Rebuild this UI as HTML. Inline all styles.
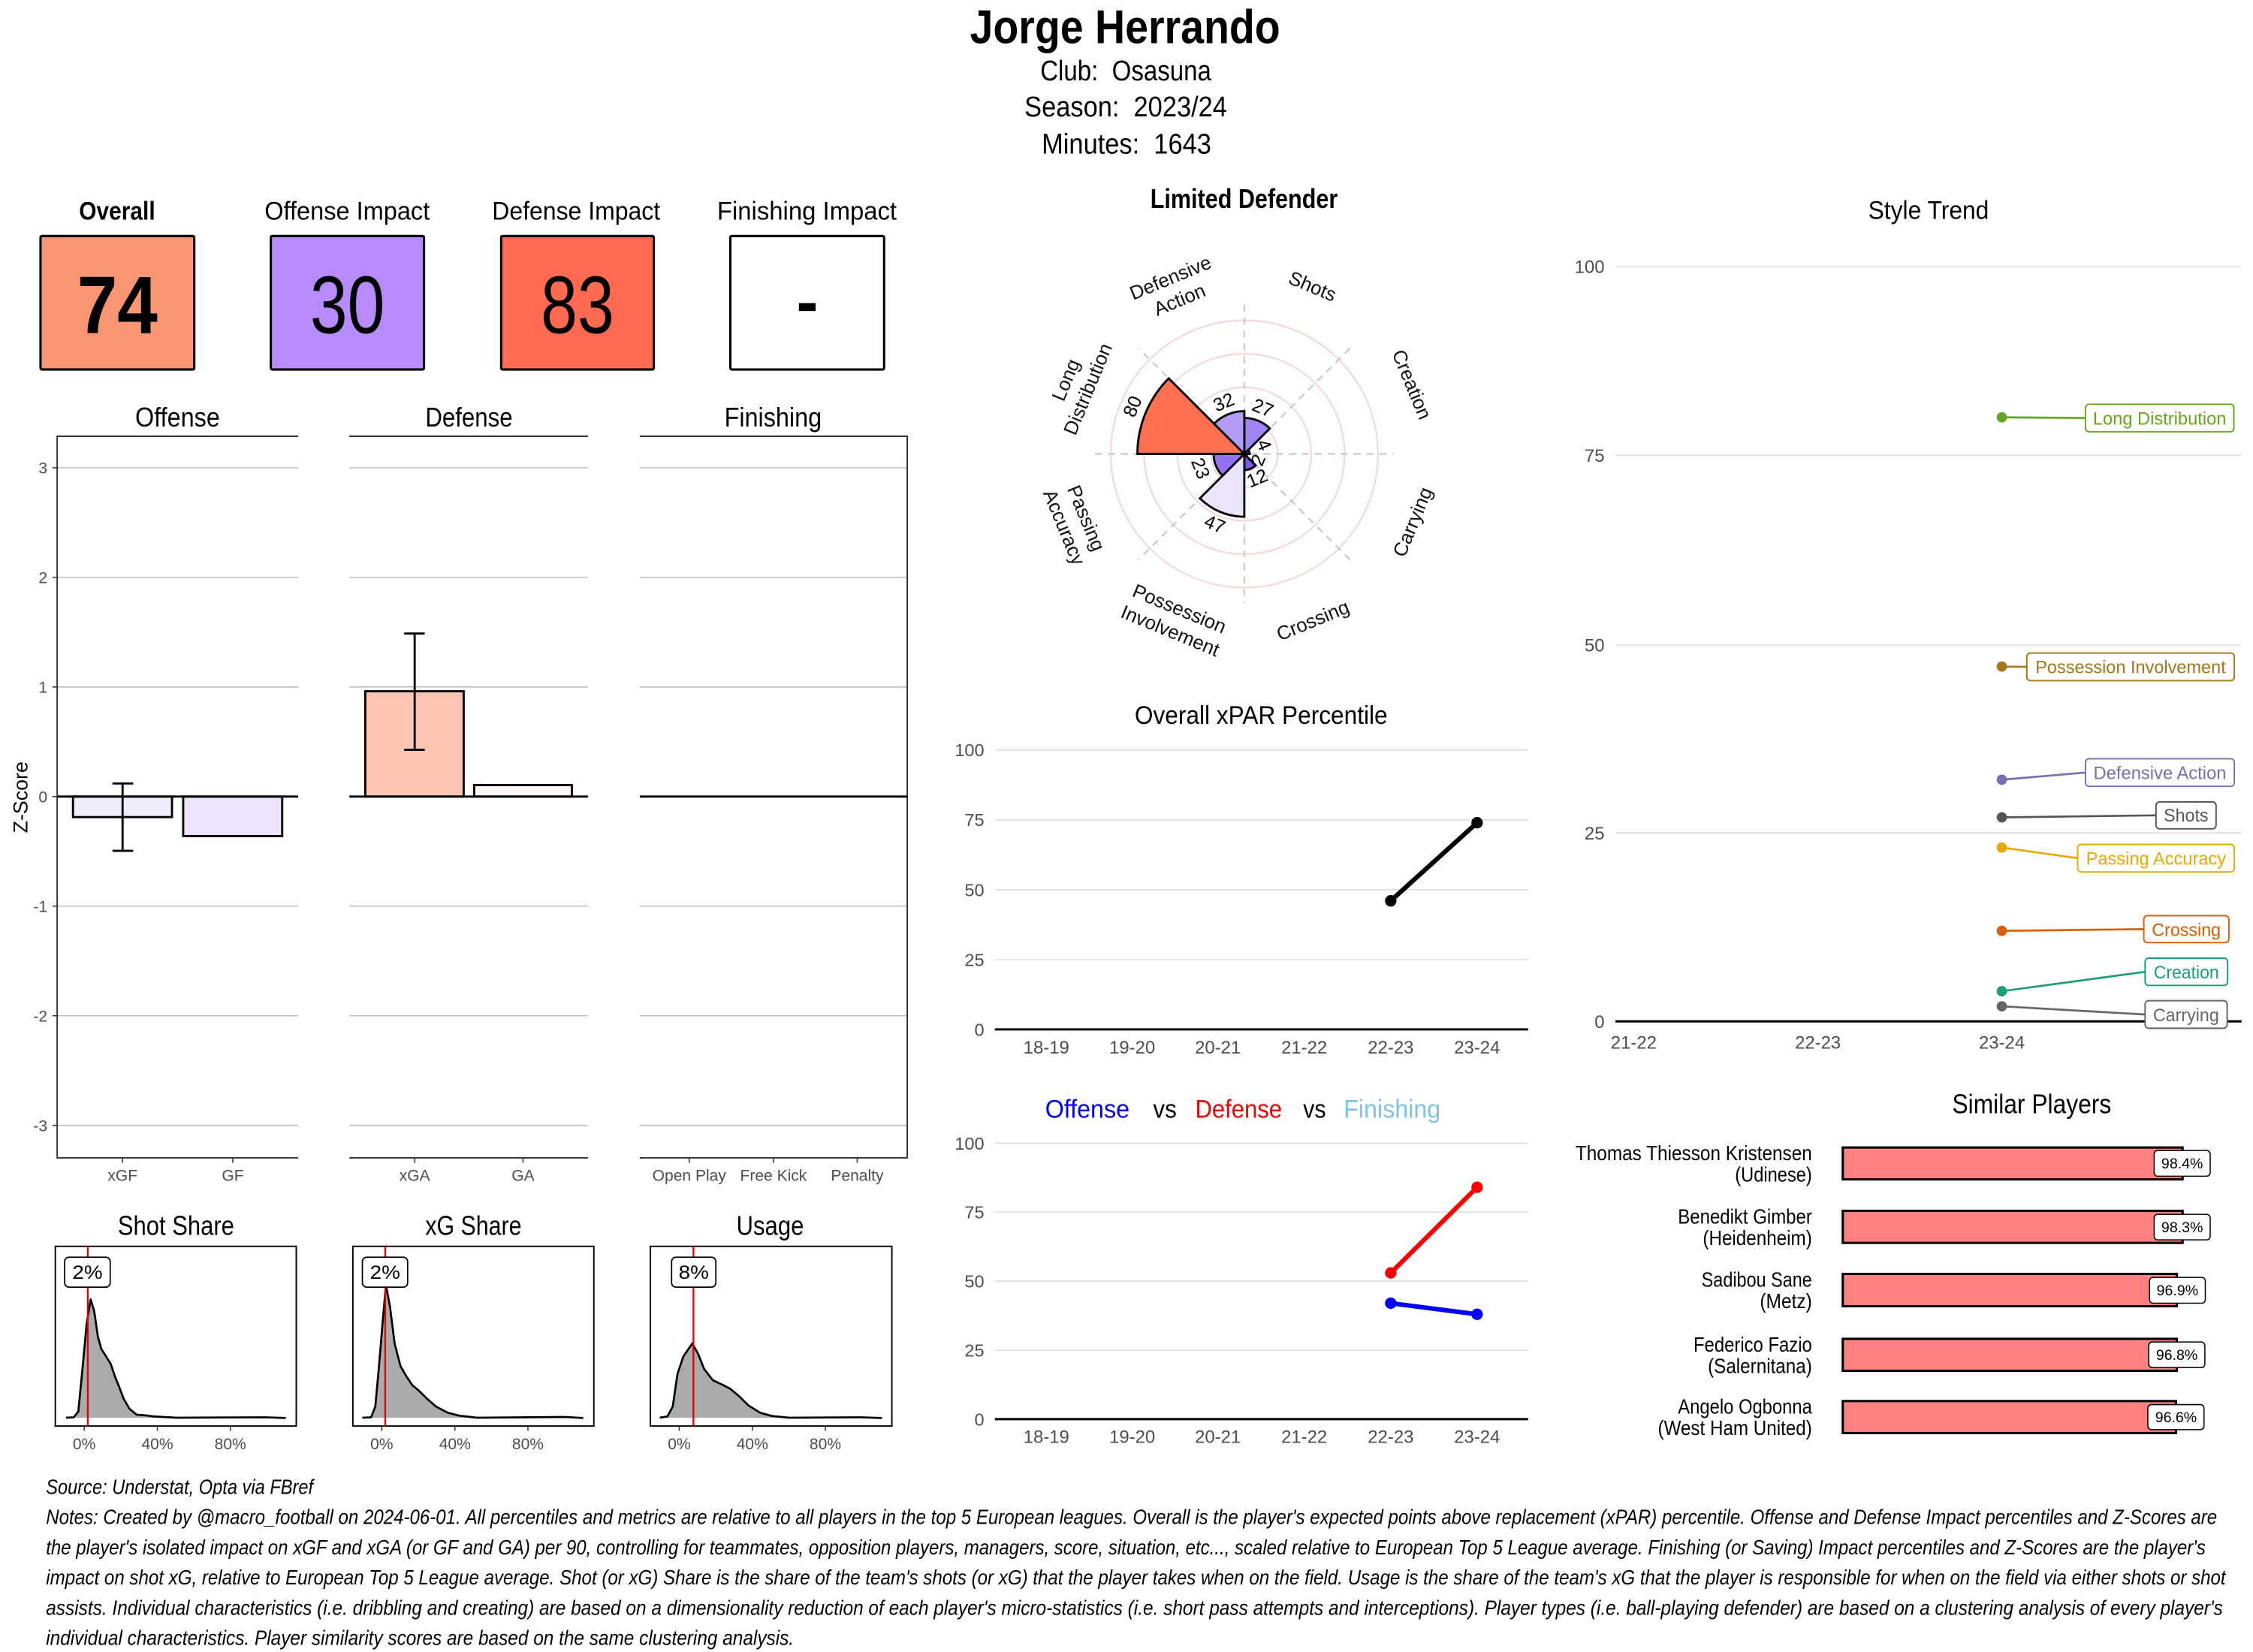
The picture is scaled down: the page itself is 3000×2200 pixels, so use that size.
<!DOCTYPE html>
<html><head><meta charset="utf-8"><style>
html,body{margin:0;padding:0;background:#fff;}
svg{display:block;}
text{font-family:"Liberation Sans",Arial,sans-serif;}
</style></head><body>
<svg width="3000" height="2200" viewBox="0 0 1568 1150" preserveAspectRatio="none" xmlns="http://www.w3.org/2000/svg">
<rect x="0" y="0" width="1568" height="1150" fill="#fff"/>

<!-- Header -->
<text x="783" y="30" font-size="33" font-weight="bold" text-anchor="middle" textLength="216" lengthAdjust="spacingAndGlyphs">Jorge Herrando</text>
<text x="783.5" y="56" font-size="20" text-anchor="middle" textLength="119" lengthAdjust="spacingAndGlyphs" xml:space="preserve">Club:  Osasuna</text>
<text x="783.5" y="81" font-size="20" text-anchor="middle" textLength="141" lengthAdjust="spacingAndGlyphs" xml:space="preserve">Season:  2023/24</text>
<text x="784" y="107" font-size="20" text-anchor="middle" textLength="118" lengthAdjust="spacingAndGlyphs" xml:space="preserve">Minutes:  1643</text>

<!-- Box headers -->
<text x="81.5" y="153" font-size="18" font-weight="bold" text-anchor="middle" textLength="53" lengthAdjust="spacingAndGlyphs">Overall</text>
<text x="241.6" y="153" font-size="18" text-anchor="middle" textLength="115" lengthAdjust="spacingAndGlyphs">Offense Impact</text>
<text x="401" y="153" font-size="18" text-anchor="middle" textLength="117" lengthAdjust="spacingAndGlyphs">Defense Impact</text>
<text x="561.6" y="153" font-size="18" text-anchor="middle" textLength="125" lengthAdjust="spacingAndGlyphs">Finishing Impact</text>

<rect x="28.2" y="164.3" width="107" height="92.9" fill="#F99572" stroke="#000" stroke-width="1.6" rx="1"/>
<rect x="188.5" y="164.3" width="106.6" height="92.9" fill="#B68BFA" stroke="#000" stroke-width="1.6" rx="1"/>
<rect x="348.8" y="164.3" width="106.2" height="92.9" fill="#FF6A50" stroke="#000" stroke-width="1.6" rx="1"/>
<rect x="508.3" y="164.3" width="107" height="92.9" fill="#fff" stroke="#000" stroke-width="1.6" rx="1"/>
<text x="81.7" y="231.8" font-size="57" font-weight="bold" text-anchor="middle" textLength="56" lengthAdjust="spacingAndGlyphs">74</text>
<text x="241.8" y="231.8" font-size="57" text-anchor="middle" textLength="52" lengthAdjust="spacingAndGlyphs">30</text>
<text x="401.9" y="231.8" font-size="57" text-anchor="middle" textLength="51" lengthAdjust="spacingAndGlyphs">83</text>
<rect x="556" y="211" width="11.6" height="5.5" fill="#000"/>

<!-- Bar panels titles -->
<text x="123.6" y="297" font-size="19" text-anchor="middle" textLength="59" lengthAdjust="spacingAndGlyphs">Offense</text>
<text x="326.4" y="297" font-size="19" text-anchor="middle" textLength="60.7" lengthAdjust="spacingAndGlyphs">Defense</text>
<text x="538" y="297" font-size="19" text-anchor="middle" textLength="67.7" lengthAdjust="spacingAndGlyphs">Finishing</text>

<!-- Grid lines -->
<g stroke="#BDBDBD" stroke-width="0.8">
  <line x1="39.8" x2="207.5" y1="325.6" y2="325.6"/><line x1="39.8" x2="207.5" y1="401.9" y2="401.9"/><line x1="39.8" x2="207.5" y1="478.2" y2="478.2"/><line x1="39.8" x2="207.5" y1="630.8" y2="630.8"/><line x1="39.8" x2="207.5" y1="707.1" y2="707.1"/><line x1="39.8" x2="207.5" y1="783.4" y2="783.4"/>
  <line x1="243.1" x2="409.2" y1="325.6" y2="325.6"/><line x1="243.1" x2="409.2" y1="401.9" y2="401.9"/><line x1="243.1" x2="409.2" y1="478.2" y2="478.2"/><line x1="243.1" x2="409.2" y1="630.8" y2="630.8"/><line x1="243.1" x2="409.2" y1="707.1" y2="707.1"/><line x1="243.1" x2="409.2" y1="783.4" y2="783.4"/>
  <line x1="445.3" x2="631.4" y1="325.6" y2="325.6"/><line x1="445.3" x2="631.4" y1="401.9" y2="401.9"/><line x1="445.3" x2="631.4" y1="478.2" y2="478.2"/><line x1="445.3" x2="631.4" y1="630.8" y2="630.8"/><line x1="445.3" x2="631.4" y1="707.1" y2="707.1"/><line x1="445.3" x2="631.4" y1="783.4" y2="783.4"/>
</g>
<!-- Panel borders -->
<g stroke="#333" stroke-width="1" fill="none">
  <polyline points="207.5,303.7 39.8,303.7 39.8,806 207.5,806"/>
  <line x1="243.1" x2="409.2" y1="303.7" y2="303.7"/><line x1="243.1" x2="409.2" y1="806" y2="806"/>
  <polyline points="445.3,303.7 631.4,303.7 631.4,806 445.3,806"/>
</g>
<!-- ticks -->
<g stroke="#333" stroke-width="0.8">
  <line x1="36.5" x2="39.8" y1="325.6" y2="325.6"/><line x1="36.5" x2="39.8" y1="401.9" y2="401.9"/><line x1="36.5" x2="39.8" y1="478.2" y2="478.2"/><line x1="36.5" x2="39.8" y1="554.5" y2="554.5"/><line x1="36.5" x2="39.8" y1="630.8" y2="630.8"/><line x1="36.5" x2="39.8" y1="707.1" y2="707.1"/><line x1="36.5" x2="39.8" y1="783.4" y2="783.4"/>
  <line x1="85.3" x2="85.3" y1="806" y2="809.5"/><line x1="162" x2="162" y1="806" y2="809.5"/>
  <line x1="288.6" x2="288.6" y1="806" y2="809.5"/><line x1="364" x2="364" y1="806" y2="809.5"/>
  <line x1="479.7" x2="479.7" y1="806" y2="809.5"/><line x1="538.3" x2="538.3" y1="806" y2="809.5"/><line x1="596.6" x2="596.6" y1="806" y2="809.5"/>
</g>
<g font-size="11" fill="#4D4D4D" text-anchor="end">
  <text x="33" y="329.6">3</text><text x="33" y="405.9">2</text><text x="33" y="482.2">1</text><text x="33" y="558.5">0</text><text x="33" y="634.8">-1</text><text x="33" y="711.1">-2</text><text x="33" y="787.4">-3</text>
</g>
<text transform="translate(19,555) rotate(-90)" font-size="14" text-anchor="middle">Z-Score</text>
<g font-size="11" fill="#4D4D4D" text-anchor="middle">
  <text x="85.3" y="822">xGF</text><text x="162" y="822">GF</text>
  <text x="288.6" y="822">xGA</text><text x="364" y="822">GA</text>
  <text x="479.7" y="822">Open Play</text><text x="538.3" y="822">Free Kick</text><text x="596.6" y="822">Penalty</text>
</g>
<!-- Bars -->
<g stroke="#000" stroke-width="1.5">
  <rect x="50.8" y="554.5" width="68.9" height="14.3" fill="#F0EEFC"/>
  <rect x="127.5" y="554.5" width="68.9" height="27.5" fill="#EEE3FD"/>
  <rect x="254.2" y="481.2" width="68.5" height="73.3" fill="#FCC5B2"/>
  <rect x="330" y="546.5" width="68" height="8" fill="#FEF4F1"/>
</g>
<g stroke="#000" stroke-width="1.5">
  <line x1="39.8" x2="207.5" y1="554.5" y2="554.5"/>
  <line x1="243.1" x2="409.2" y1="554.5" y2="554.5"/>
  <line x1="445.3" x2="631.4" y1="554.5" y2="554.5"/>
  <line x1="85.3" x2="85.3" y1="545.4" y2="592.3"/><line x1="78.3" x2="92.7" y1="545.4" y2="545.4"/><line x1="78.3" x2="92.7" y1="592.3" y2="592.3"/>
  <line x1="288.6" x2="288.6" y1="441" y2="522"/><line x1="281.3" x2="295.6" y1="441" y2="441"/><line x1="281.3" x2="295.6" y1="522" y2="522"/>
</g>

<!-- Density plots -->
<text x="122.5" y="859.7" font-size="19" text-anchor="middle" textLength="81" lengthAdjust="spacingAndGlyphs">Shot Share</text>
<text x="329.5" y="859.7" font-size="19" text-anchor="middle" textLength="67" lengthAdjust="spacingAndGlyphs">xG Share</text>
<text x="536" y="859.7" font-size="19" text-anchor="middle" textLength="47" lengthAdjust="spacingAndGlyphs">Usage</text>

<g stroke="#000" stroke-width="1" fill="#fff">
  <rect x="38.5" y="867.6" width="167.7" height="125.1"/>
  <rect x="245.6" y="867.6" width="167.7" height="125.1"/>
  <rect x="452.6" y="867.6" width="168.1" height="125.1"/>
</g>
<g fill="#ABABAB" stroke="#000" stroke-width="1.4" stroke-linejoin="round">
  <polygon points="45.9,986.9 51.3,986.6 54.5,982.6 57.4,952.9 60.3,921.6 63.1,904.5 65.6,912.9 68.1,930.3 70.5,939 73.8,944.2 77.1,949.5 80,958.2 82.8,965.1 86.1,973.8 90.2,980.8 95.1,984.8 100.5,985.2 106.6,986 123,986.9 184.5,986.6 198.9,987.1" stroke="none"/>
  <polyline fill="none" points="45.9,986.9 51.3,986.6 54.5,982.6 57.4,952.9 60.3,921.6 63.1,904.5 65.6,912.9 68.1,930.3 70.5,939 73.8,944.2 77.1,949.5 80,958.2 82.8,965.1 86.1,973.8 90.2,980.8 95.1,984.8 100.5,985.2 106.6,986 123,986.9 184.5,986.6 198.9,987.1"/>
  <polygon stroke="none" points="252.2,986.9 258.3,986.6 261.2,979.1 263.6,952.9 266.5,918.1 268.6,894.6 271.4,909.4 274.7,935.5 278.8,951.2 282.9,958.2 287,964.3 291.1,967.7 297.3,973.8 303.4,979.1 311.6,983.4 319.8,985.5 332.1,986.9 393.6,986.4 405.9,987.1"/>
  <polyline fill="none" points="252.2,986.9 258.3,986.6 261.2,979.1 263.6,952.9 266.5,918.1 268.6,894.6 271.4,909.4 274.7,935.5 278.8,951.2 282.9,958.2 287,964.3 291.1,967.7 297.3,973.8 303.4,979.1 311.6,983.4 319.8,985.5 332.1,986.9 393.6,986.4 405.9,987.1"/>
  <polygon stroke="none" points="459.2,986.9 464.5,986 468.2,979.1 471.5,956.4 475.6,944.2 481.8,935.2 485.9,942.5 490,952.9 496.1,960.8 502.3,963.7 508.4,966.9 514.6,972.1 520.7,978.2 528.9,983.4 537.1,985.7 549.4,986.9 598.6,986.6 613.8,987.1"/>
  <polyline fill="none" points="459.2,986.9 464.5,986 468.2,979.1 471.5,956.4 475.6,944.2 481.8,935.2 485.9,942.5 490,952.9 496.1,960.8 502.3,963.7 508.4,966.9 514.6,972.1 520.7,978.2 528.9,983.4 537.1,985.7 549.4,986.9 598.6,986.6 613.8,987.1"/>
</g>
<g stroke="#E00000" stroke-width="1.2">
  <line x1="61.1" x2="61.1" y1="867.6" y2="992.7"/>
  <line x1="268.1" x2="268.1" y1="867.6" y2="992.7"/>
  <line x1="482.6" x2="482.6" y1="867.6" y2="992.7"/>
</g>
<g fill="#fff" stroke="#000" stroke-width="0.9">
  <rect x="45" y="875.2" width="31.7" height="20.8" rx="3"/>
  <rect x="252.2" y="875.2" width="31.5" height="20.8" rx="3"/>
  <rect x="467.4" y="875.2" width="30.8" height="20.8" rx="3"/>
</g>
<g font-size="13" text-anchor="middle">
  <text x="60.9" y="890.3" textLength="21" lengthAdjust="spacingAndGlyphs">2%</text>
  <text x="268" y="890.3" textLength="21" lengthAdjust="spacingAndGlyphs">2%</text>
  <text x="482.8" y="890.3" textLength="21" lengthAdjust="spacingAndGlyphs">8%</text>
</g>
<g stroke="#333" stroke-width="0.8">
  <line x1="58.6" x2="58.6" y1="992.7" y2="996"/><line x1="109.5" x2="109.5" y1="992.7" y2="996"/><line x1="160.3" x2="160.3" y1="992.7" y2="996"/>
  <line x1="265.7" x2="265.7" y1="992.7" y2="996"/><line x1="316.6" x2="316.6" y1="992.7" y2="996"/><line x1="367.4" x2="367.4" y1="992.7" y2="996"/>
  <line x1="472.7" x2="472.7" y1="992.7" y2="996"/><line x1="523.6" x2="523.6" y1="992.7" y2="996"/><line x1="574.4" x2="574.4" y1="992.7" y2="996"/>
</g>
<g font-size="11" fill="#4D4D4D" text-anchor="middle">
  <text x="58.6" y="1009">0%</text><text x="109.5" y="1009">40%</text><text x="160.3" y="1009">80%</text>
  <text x="265.7" y="1009">0%</text><text x="316.6" y="1009">40%</text><text x="367.4" y="1009">80%</text>
  <text x="472.7" y="1009">0%</text><text x="523.6" y="1009">40%</text><text x="574.4" y="1009">80%</text>
</g>

<!-- Radar -->
<text x="865.8" y="144.9" font-size="19" font-weight="bold" text-anchor="middle" textLength="130.4" lengthAdjust="spacingAndGlyphs">Limited Defender</text>
<g fill="none" stroke="#F3D8D8" stroke-width="1.1">
  <circle cx="866" cy="316" r="23.25"/><circle cx="866" cy="316" r="46.5"/><circle cx="866" cy="316" r="69.75"/><circle cx="866" cy="316" r="93"/>
</g>
<g stroke="#CFC8C8" stroke-width="1.2" stroke-dasharray="5 4">
  <line x1="866" y1="212" x2="866" y2="420"/>
  <line x1="762" y1="316" x2="970" y2="316"/>
  <line x1="939.5" y1="242.5" x2="792.5" y2="389.5"/>
  <line x1="939.5" y1="389.5" x2="792.5" y2="242.5"/>
</g>
<g stroke="#000" stroke-width="1.5" stroke-linejoin="miter">
  <path d="M866,316 L866,290.9 A25.1,25.1 0 0 1 883.75,298.25 Z" fill="#A384F4"/>
  <path d="M866,316 L868.62,313.38 A3.7,3.7 0 0 1 869.7,316 Z" fill="#6F45EF"/>
  <path d="M866,316 L867.9,316 A1.9,1.9 0 0 1 867.34,317.34 Z" fill="#6A40EE"/>
  <path d="M866,316 L873.92,323.92 A11.2,11.2 0 0 1 866,327.2 Z" fill="#7C58F0"/>
  <path d="M866,316 L866,359.7 A43.7,43.7 0 0 1 835.1,346.9 Z" fill="#ECE5FD"/>
  <path d="M866,316 L850.87,331.13 A21.4,21.4 0 0 1 844.6,316 Z" fill="#9470F3"/>
  <path d="M866,316 L791.6,316 A74.4,74.4 0 0 1 813.39,263.39 Z" fill="#FF7050"/>
  <path d="M866,316 L844.93,294.93 A29.8,29.8 0 0 1 866,286.2 Z" fill="#B49CF6"/>
</g>
<g font-size="13" text-anchor="middle" dominant-baseline="central">
  <text transform="translate(788.4,283) rotate(-67.5)">80</text>
  <text transform="translate(851.7,280.2) rotate(-22.5)">32</text>
  <text transform="translate(878.8,284.1) rotate(22.5)">27</text>
  <text transform="translate(879.6,309.8) rotate(67.5)">4</text>
  <text transform="translate(875.8,320.3) rotate(-67.5)">2</text>
  <text transform="translate(875,333.1) rotate(-22.5)">12</text>
  <text transform="translate(845.4,365.1) rotate(22.5)">47</text>
  <text transform="translate(835.3,326.1) rotate(67.5)">23</text>
</g>
<g font-size="13.5" text-anchor="middle" dominant-baseline="central" fill="#111">
  <text transform="translate(817.9,201.35) rotate(-22.5) translate(0,-8.3)">Defensive</text>
  <text transform="translate(817.9,201.35) rotate(-22.5) translate(0,8.3)">Action</text>
  <text transform="translate(913.3,199.7) rotate(22.5)">Shots</text>
  <text transform="translate(982.2,267.8) rotate(67.5)">Creation</text>
  <text transform="translate(983.5,363.5) rotate(-67.5)">Carrying</text>
  <text transform="translate(913.8,432.3) rotate(-22.5)">Crossing</text>
  <text transform="translate(817.5,431.8) rotate(22.5) translate(0,-8.3)">Possession</text>
  <text transform="translate(817.5,431.8) rotate(22.5) translate(0,8.3)">Involvement</text>
  <text transform="translate(747.9,364) rotate(67.5) translate(0,-8.3)">Passing</text>
  <text transform="translate(747.9,364) rotate(67.5) translate(0,8.3)">Accuracy</text>
  <text transform="translate(749.8,267.8) rotate(-67.5) translate(0,-8.3)">Long</text>
  <text transform="translate(749.8,267.8) rotate(-67.5) translate(0,8.3)">Distribution</text>
</g>

<!-- Overall xPAR Percentile -->
<text x="877.7" y="504" font-size="18" text-anchor="middle" textLength="176" lengthAdjust="spacingAndGlyphs">Overall xPAR Percentile</text>
<g stroke="#DDDDDD" stroke-width="0.8">
  <line x1="692.4" x2="1063.5" y1="522.1" y2="522.1"/><line x1="692.4" x2="1063.5" y1="570.7" y2="570.7"/><line x1="692.4" x2="1063.5" y1="619.4" y2="619.4"/><line x1="692.4" x2="1063.5" y1="668" y2="668"/>
</g>
<line x1="692.4" x2="1063.5" y1="716.6" y2="716.6" stroke="#000" stroke-width="1.6"/>
<g font-size="12.3" fill="#4D4D4D" text-anchor="end">
  <text x="685" y="526.5">100</text><text x="685" y="575.1">75</text><text x="685" y="623.8">50</text><text x="685" y="672.4">25</text><text x="685" y="721">0</text>
</g>
<g font-size="12.5" fill="#4D4D4D" text-anchor="middle">
  <text x="728.2" y="733.3">18-19</text><text x="788" y="733.3">19-20</text><text x="847.6" y="733.3">20-21</text><text x="907.7" y="733.3">21-22</text><text x="967.9" y="733.3">22-23</text><text x="1028" y="733.3">23-24</text>
</g>
<line x1="967.9" y1="627.1" x2="1028" y2="572.7" stroke="#000" stroke-width="3.2"/>
<circle cx="967.9" cy="627.1" r="4" fill="#000"/><circle cx="1028" cy="572.7" r="4" fill="#000"/>

<!-- Offense vs Defense vs Finishing -->
<g font-size="18">
  <text x="727.4" y="778" fill="#0000EE" textLength="58.7" lengthAdjust="spacingAndGlyphs">Offense</text>
  <text x="802.5" y="778" fill="#000" textLength="16.4" lengthAdjust="spacingAndGlyphs">vs</text>
  <text x="831.8" y="778" fill="#EE0000" textLength="60.4" lengthAdjust="spacingAndGlyphs">Defense</text>
  <text x="906.9" y="778" fill="#000" textLength="15.9" lengthAdjust="spacingAndGlyphs">vs</text>
  <text x="935.1" y="778" fill="#7EC3E6" textLength="67.5" lengthAdjust="spacingAndGlyphs">Finishing</text>
</g>
<g stroke="#DDDDDD" stroke-width="0.8">
  <line x1="692.4" x2="1063.5" y1="795.8" y2="795.8"/><line x1="692.4" x2="1063.5" y1="843.8" y2="843.8"/><line x1="692.4" x2="1063.5" y1="891.9" y2="891.9"/><line x1="692.4" x2="1063.5" y1="939.9" y2="939.9"/>
</g>
<line x1="692.4" x2="1063.5" y1="987.9" y2="987.9" stroke="#000" stroke-width="1.6"/>
<g font-size="12.3" fill="#4D4D4D" text-anchor="end">
  <text x="685" y="800.2">100</text><text x="685" y="848.2">75</text><text x="685" y="896.3">50</text><text x="685" y="944.3">25</text><text x="685" y="992.3">0</text>
</g>
<g font-size="12.5" fill="#4D4D4D" text-anchor="middle">
  <text x="728.2" y="1004.5">18-19</text><text x="788" y="1004.5">19-20</text><text x="847.6" y="1004.5">20-21</text><text x="907.7" y="1004.5">21-22</text><text x="967.9" y="1004.5">22-23</text><text x="1028" y="1004.5">23-24</text>
</g>
<line x1="967.9" y1="886.1" x2="1028" y2="826.5" stroke="#FF0000" stroke-width="3.2"/>
<circle cx="967.9" cy="886.1" r="4" fill="#FF0000"/><circle cx="1028" cy="826.5" r="4" fill="#FF0000"/>
<line x1="967.9" y1="907.2" x2="1028" y2="914.9" stroke="#0000FF" stroke-width="3.2"/>
<circle cx="967.9" cy="907.2" r="4" fill="#0000FF"/><circle cx="1028" cy="914.9" r="4" fill="#0000FF"/>

<!-- Style Trend -->
<text x="1342.2" y="152.5" font-size="18" text-anchor="middle" textLength="84" lengthAdjust="spacingAndGlyphs">Style Trend</text>
<g stroke="#DDDDDD" stroke-width="0.8">
  <line x1="1124.3" x2="1560" y1="185.4" y2="185.4"/><line x1="1124.3" x2="1560" y1="317" y2="317"/><line x1="1124.3" x2="1560" y1="449" y2="449"/><line x1="1124.3" x2="1560" y1="579.8" y2="579.8"/>
</g>
<g font-size="12.5" fill="#4D4D4D" text-anchor="end">
  <text x="1116.7" y="189.9">100</text><text x="1116.7" y="321.5">75</text><text x="1116.7" y="453.5">50</text><text x="1116.7" y="584.3">25</text><text x="1116.7" y="715.5">0</text>
</g>
<g font-size="12.5" fill="#4D4D4D" text-anchor="middle">
  <text x="1137" y="730">21-22</text><text x="1265.2" y="730">22-23</text><text x="1393.2" y="730">23-24</text>
</g>
<g stroke-width="1.4" fill="none">
  <line x1="1393.2" y1="290.5" x2="1451.4" y2="291" stroke="#66A61E"/>
  <line x1="1393.2" y1="464" x2="1410.6" y2="464.2" stroke="#A6761D"/>
  <line x1="1393.2" y1="542.8" x2="1451.4" y2="537.8" stroke="#7570B3"/>
  <line x1="1393.2" y1="569" x2="1500.5" y2="567.6" stroke="#555555"/>
  <line x1="1393.2" y1="590" x2="1446" y2="597.4" stroke="#E6AB02"/>
  <line x1="1393.2" y1="648" x2="1492" y2="646.8" stroke="#D95F02"/>
  <line x1="1393.2" y1="690" x2="1492.9" y2="676.5" stroke="#1B9E77"/>
  <line x1="1393.2" y1="700.5" x2="1492.9" y2="706.2" stroke="#666666"/>
</g>
<line x1="1124.3" x2="1560" y1="711" y2="711" stroke="#000" stroke-width="1.6"/>
<g>
  <circle cx="1393.2" cy="290.5" r="3.6" fill="#66A61E"/>
  <circle cx="1393.2" cy="464" r="3.6" fill="#A6761D"/>
  <circle cx="1393.2" cy="542.8" r="3.6" fill="#7570B3"/>
  <circle cx="1393.2" cy="569" r="3.6" fill="#555555"/>
  <circle cx="1393.2" cy="590" r="3.6" fill="#E6AB02"/>
  <circle cx="1393.2" cy="648" r="3.6" fill="#D95F02"/>
  <circle cx="1393.2" cy="690" r="3.6" fill="#1B9E77"/>
  <circle cx="1393.2" cy="700.5" r="3.6" fill="#666666"/>
</g>
<g fill="#fff" stroke-width="1">
  <rect x="1451.4" y="281.4" width="103.3" height="19.2" rx="2.5" stroke="#66A61E"/>
  <rect x="1410.6" y="454.6" width="144.4" height="19.2" rx="2.5" stroke="#A6761D"/>
  <rect x="1451.4" y="528.2" width="103.6" height="19.2" rx="2.5" stroke="#7570B3"/>
  <rect x="1500.5" y="558.2" width="41.8" height="18.8" rx="2.5" stroke="#555555"/>
  <rect x="1446" y="587.8" width="109" height="19.2" rx="2.5" stroke="#E6AB02"/>
  <rect x="1492" y="637.4" width="59.2" height="18.8" rx="2.5" stroke="#D95F02"/>
  <rect x="1492.9" y="667" width="57.4" height="19" rx="2.5" stroke="#1B9E77"/>
  <rect x="1492.9" y="696.6" width="57.1" height="19.2" rx="2.5" stroke="#666666"/>
</g>
<g font-size="12.5" text-anchor="middle">
  <text x="1503" y="295.5" fill="#66A61E" textLength="92.8" lengthAdjust="spacingAndGlyphs">Long Distribution</text>
  <text x="1482.8" y="468.7" fill="#A6761D" textLength="132.5" lengthAdjust="spacingAndGlyphs">Possession Involvement</text>
  <text x="1503.2" y="542.3" fill="#7570B3" textLength="92.5" lengthAdjust="spacingAndGlyphs">Defensive Action</text>
  <text x="1521.4" y="572" fill="#555555" textLength="31" lengthAdjust="spacingAndGlyphs">Shots</text>
  <text x="1500.5" y="602" fill="#E6AB02" textLength="97.5" lengthAdjust="spacingAndGlyphs">Passing Accuracy</text>
  <text x="1521.6" y="651.5" fill="#D95F02" textLength="48" lengthAdjust="spacingAndGlyphs">Crossing</text>
  <text x="1521.6" y="681" fill="#1B9E77" textLength="45.5" lengthAdjust="spacingAndGlyphs">Creation</text>
  <text x="1521.4" y="711" fill="#666666" textLength="46" lengthAdjust="spacingAndGlyphs">Carrying</text>
</g>

<!-- Similar Players -->
<text x="1414" y="775" font-size="19" text-anchor="middle" textLength="110.7" lengthAdjust="spacingAndGlyphs">Similar Players</text>
<g fill="#FF8080" stroke="#000" stroke-width="1.6">
  <rect x="1282.5" y="798.8" width="236.5" height="22.2"/>
  <rect x="1282.5" y="842.9" width="236.5" height="22.3"/>
  <rect x="1282.5" y="886.8" width="232.5" height="22.5"/>
  <rect x="1282.5" y="932" width="232.5" height="22.3"/>
  <rect x="1282.5" y="975.3" width="231.9" height="22.3"/>
</g>
<g fill="#fff" stroke="#000" stroke-width="0.8">
  <rect x="1499.2" y="800.9" width="39" height="17.9" rx="2.5"/>
  <rect x="1499.2" y="845.3" width="39" height="17.8" rx="2.5"/>
  <rect x="1496" y="889.2" width="38.8" height="18" rx="2.5"/>
  <rect x="1495.4" y="934.2" width="39.1" height="17.8" rx="2.5"/>
  <rect x="1494.8" y="977.8" width="39.1" height="17.4" rx="2.5"/>
</g>
<g font-size="10" text-anchor="middle">
  <text x="1518.7" y="813.3" textLength="29" lengthAdjust="spacingAndGlyphs">98.4%</text>
  <text x="1518.7" y="857.7" textLength="29" lengthAdjust="spacingAndGlyphs">98.3%</text>
  <text x="1515.4" y="901.7" textLength="29" lengthAdjust="spacingAndGlyphs">96.9%</text>
  <text x="1515" y="946.6" textLength="29" lengthAdjust="spacingAndGlyphs">96.8%</text>
  <text x="1514.4" y="990" textLength="29" lengthAdjust="spacingAndGlyphs">96.6%</text>
</g>
<g font-size="14.5" text-anchor="end">
  <text x="1261.1" y="807.5" textLength="164.6" lengthAdjust="spacingAndGlyphs">Thomas Thiesson Kristensen</text>
  <text x="1261.1" y="822.5" textLength="53.6" lengthAdjust="spacingAndGlyphs">(Udinese)</text>
  <text x="1261.1" y="851.7" textLength="93.3" lengthAdjust="spacingAndGlyphs">Benedikt Gimber</text>
  <text x="1261.1" y="866.7" textLength="76" lengthAdjust="spacingAndGlyphs">(Heidenheim)</text>
  <text x="1261.1" y="895.7" textLength="76.9" lengthAdjust="spacingAndGlyphs">Sadibou Sane</text>
  <text x="1261.1" y="910.7" textLength="36.3" lengthAdjust="spacingAndGlyphs">(Metz)</text>
  <text x="1261.1" y="940.8" textLength="82.5" lengthAdjust="spacingAndGlyphs">Federico Fazio</text>
  <text x="1261.1" y="955.8" textLength="72.5" lengthAdjust="spacingAndGlyphs">(Salernitana)</text>
  <text x="1261.1" y="984" textLength="93.3" lengthAdjust="spacingAndGlyphs">Angelo Ogbonna</text>
  <text x="1261.1" y="999" textLength="107.3" lengthAdjust="spacingAndGlyphs">(West Ham United)</text>
</g>

<!-- Notes -->
<g font-size="14.5" font-style="italic" fill="#000">
  <text x="32" y="1040" textLength="186" lengthAdjust="spacingAndGlyphs">Source: Understat, Opta via FBref</text>
  <text x="32" y="1061" textLength="1511" lengthAdjust="spacingAndGlyphs">Notes: Created by @macro_football on 2024-06-01. All percentiles and metrics are relative to all players in the top 5 European leagues. Overall is the player's expected points above replacement (xPAR) percentile. Offense and Defense Impact percentiles and Z-Scores are</text>
  <text x="32" y="1082" textLength="1503" lengthAdjust="spacingAndGlyphs">the player's isolated impact on xGF and xGA (or GF and GA) per 90, controlling for teammates, opposition players, managers, score, situation, etc..., scaled relative to European Top 5 League average. Finishing (or Saving) Impact percentiles and Z-Scores are the player's</text>
  <text x="32" y="1103" textLength="1517" lengthAdjust="spacingAndGlyphs">impact on shot xG, relative to European Top 5 League average. Shot (or xG) Share is the share of the team's shots (or xG) that the player takes when on the field. Usage is the share of the team's xG that the player is responsible for when on the field via either shots or shot</text>
  <text x="32" y="1124" textLength="1515" lengthAdjust="spacingAndGlyphs">assists. Individual characteristics (i.e. dribbling and creating) are based on a dimensionality reduction of each player's micro-statistics (i.e. short pass attempts and interceptions). Player types (i.e. ball-playing defender) are based on a clustering analysis of every player's</text>
  <text x="32" y="1145" textLength="520.5" lengthAdjust="spacingAndGlyphs">individual characteristics. Player similarity scores are based on the same clustering analysis.</text>
</g>
</svg>
</body></html>
